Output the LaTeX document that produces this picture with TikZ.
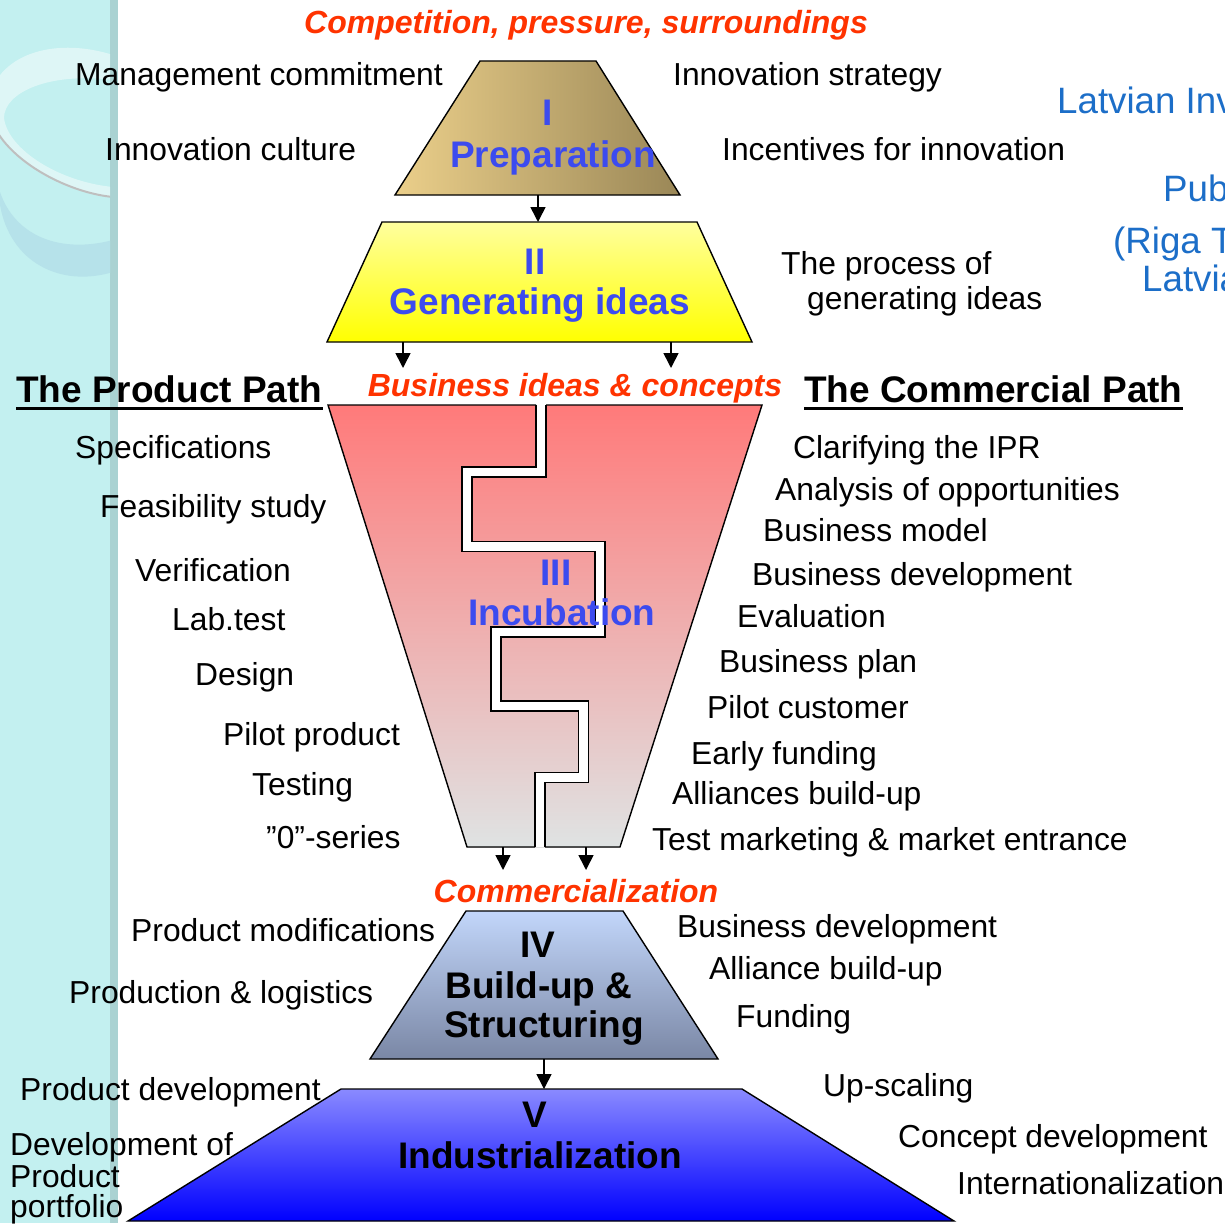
\documentclass[tikz,border=0pt]{standalone}
\usepackage{fontspec}
\setmainfont{Liberation Sans}
\usetikzlibrary{arrows.meta}
\definecolor{bgcyan}{HTML}{C3F0F0}
\definecolor{stripe}{HTML}{AAD2D2}
\definecolor{ringB}{HTML}{B6E2EA}
\definecolor{prepL}{HTML}{EBCF8A}
\definecolor{prepR}{HTML}{9A8757}
\definecolor{genT}{HTML}{FFFF9E}
\definecolor{genB}{HTML}{FFFF00}
\definecolor{incT}{HTML}{FF7A7A}
\definecolor{incB}{HTML}{DFE3E3}
\definecolor{buildT}{HTML}{C2D6FA}
\definecolor{buildB}{HTML}{7A87A5}
\definecolor{indT}{HTML}{8A8AFF}
\definecolor{indB}{HTML}{0000FF}
\definecolor{stgblue}{HTML}{3C4BEF}
\definecolor{orng}{HTML}{FF3300}
\definecolor{lvblue}{HTML}{1C6EC8}
\begin{document}
\begin{tikzpicture}[x=1pt,y=-1pt,
  lbl/.style={inner sep=0pt, anchor=west, font=\fontsize{31.8}{34}\selectfont, text height=22.8pt, text depth=0pt},
  stg/.style={inner sep=0pt, anchor=center, font=\fontsize{37}{40}\selectfont\bfseries, text height=26.5pt, text depth=0pt},
  hdr/.style={inner sep=0pt, anchor=west, font=\fontsize{37}{40}\selectfont\bfseries, text height=26.5pt, text depth=0pt},
  emph/.style={inner sep=0pt, anchor=center, font=\fontsize{32}{34}\selectfont\bfseries\itshape, text height=23pt, text depth=0pt, text=orng},
  org/.style={inner sep=0pt, anchor=west, font=\fontsize{36.7}{40}\selectfont, text height=26.3pt, text depth=0pt, text=lvblue},
  arr/.style={-{Triangle[length=15pt,width=15pt]}, line width=1.6pt},
  stagebox/.style={draw=black, line width=1.4pt, line join=miter}]

\useasboundingbox (0,0) rectangle (1225,1223);
\clip (0,0) rectangle (1225,1223);
\fill[white] (0,0) rectangle (1225,1223);

% ---------- left decorative strip ----------
\fill[bgcyan] (0,0) rectangle (110,1223);
\fill[stripe] (110,0) rectangle (118,1223);
\begin{scope}
  \clip (0,0) rectangle (110,1223);
  \fill[white, opacity=0.45] (113,55) .. controls (60,38) and (0,50) .. (-12,100)
        .. controls (-12,150) and (60,192) .. (113,197)
        -- (113,187) .. controls (60,182) and (8,150) .. (4,118)
        .. controls (4,92) and (50,72) .. (113,80) -- cycle;
  \draw[gray!50, line width=2pt] (-12,102) .. controls (-12,150) and (60,192) .. (113,197);
  \fill[ringB] (0,205) .. controls (10,262) and (60,288) .. (113,272)
        -- (113,240) .. controls (60,254) and (15,236) .. (0,192) -- cycle;
\end{scope}

% ---------- Stage I ----------
\path[stagebox, left color=prepL, right color=prepR]
  (480,61) -- (596,61) -- (680,195) -- (395,195) -- cycle;
\node[stg, text=stgblue] (s1a) at (548,112) {I};
\node[stg, text=stgblue] (s1b) at (553,154) {Preparation};
\coordinate (s1bot) at (538,195);
\coordinate (s2top) at (538,222);
\draw[arr] (s1bot) -- (s2top);

% ---------- Stage II ----------
\path[stagebox, top color=genT, bottom color=genB]
  (382,222) -- (697,222) -- (752,342) -- (327,342) -- cycle;
\node[stg, text=stgblue] (s2a) at (535,261) {II};
\node[stg, text=stgblue] (s2b) at (540,301) {Generating ideas};
\coordinate (s2botL) at (403,342);
\coordinate (s2botR) at (671,342);
\coordinate (s3topL) at (403,368);
\coordinate (s3topR) at (671,368);
\draw[arr] (s2botL) -- (s3topL);
\draw[arr] (s2botR) -- (s3topR);

% ---------- Stage III funnel ----------
\fill[top color=incT, bottom color=incB]
  (328,405) -- (762,405) -- (620,847) -- (467,847) -- cycle;
\draw[line width=1.4pt, line join=miter] (536,405) -- (328,405) -- (467,847) -- (535,847);
\draw[line width=1.4pt, line join=miter] (545,847) -- (620,847) -- (762,405) -- (546,405);
\draw[line width=1.3pt, double=white, double distance=8.5pt, line join=miter]
  (541,405) -- (541,472) -- (467,472) -- (467,546.5) -- (600,546.5) -- (600,632)
  -- (496,632) -- (496,706) -- (583.5,706) -- (583.5,777.5) -- (540,777.5) -- (540,847);
\node[stg, text=stgblue] (s3a) at (556,572) {III};
\node[stg, text=stgblue] (s3b) at (562,612) {Incubation};
\coordinate (s3botL) at (503,847);
\coordinate (s3botR) at (586,847);
\coordinate (s4topL) at (503,870);
\coordinate (s4topR) at (586,870);
\draw[arr] (s3botL) -- (s4topL);
\draw[arr] (s3botR) -- (s4topR);

% ---------- Stage IV ----------
\path[stagebox, top color=buildT, bottom color=buildB]
  (466,911) -- (623,911) -- (718,1059) -- (370,1059) -- cycle;
\node[stg] (s4a) at (538,944) {IV};
\node[stg] (s4b) at (539,985) {Build-up \&};
\node[stg] (s4c) at (544,1024) {Structuring};
\coordinate (s4bot) at (544,1059);
\coordinate (s5top) at (544,1089);
\draw[arr] (s4bot) -- (s5top);

% ---------- Stage V ----------
\path[stagebox, top color=indT, bottom color=indB]
  (341,1089) -- (742,1089) -- (954,1221) -- (128,1221) -- cycle;
\node[stg] (s5a) at (535,1114) {V};
\node[stg] (s5b) at (540,1155) {Industrialization};

% ---------- headings ----------
\node[emph] (comp) at (586,22) {Competition, pressure, surroundings};
\node[emph] (bic) at (575,385) {Business ideas \& concepts};
\node[emph] (comm) at (576,891) {Commercialization};
\node[hdr] (pp) at (16,389.5) {The Product Path};
\node[hdr] (cp) at (804,389.5) {The Commercial Path};
\draw[line width=3pt] ([yshift=-6pt]pp.south west) -- ([yshift=-6pt]pp.south east);
\draw[line width=3pt] ([yshift=-6pt]cp.south west) -- ([yshift=-6pt]cp.south east);

% ---------- top labels ----------
\node[lbl] (mc) at (75,74) {Management commitment};
\node[lbl] (ic) at (105,149) {Innovation culture};
\node[lbl] (is) at (673,74) {Innovation strategy};
\node[lbl] (ifi) at (722,149) {Incentives for innovation};
\node[lbl] (tp1) at (781,263) {The process of};
\node[lbl] (tp2) at (807,298) {generating ideas};

% ---------- organisation (cut off at right edge, as in the reference) ----------
\node[org] (lv1) at (1057,100) {Latvian Inv};
\node[org] (lv2) at (1163,188.5) {Pub};
\node[org] (lv3) at (1113,240) {(Riga T};
\node[org] (lv4) at (1142,278.5) {Latvia};

% ---------- product path ----------
\node[lbl] (p1) at (75,447.5) {Specifications};
\node[lbl] (p2) at (100,506.5) {Feasibility study};
\node[lbl] (p3) at (135,570.5) {Verification};
\node[lbl] (p4) at (172,619.5) {Lab.test};
\node[lbl] (p5) at (195,674) {Design};
\node[lbl] (p6) at (223,734) {Pilot product};
\node[lbl] (p7) at (252,784) {Testing};
\node[lbl] (p8) at (266,837.5) {”0”-series};

% ---------- commercial path ----------
\node[lbl] (c1) at (793,447) {Clarifying the IPR};
\node[lbl] (c2) at (775,489) {Analysis of opportunities};
\node[lbl] (c3) at (763,530) {Business model};
\node[lbl] (c4) at (752,574) {Business development};
\node[lbl] (c5) at (737,616) {Evaluation};
\node[lbl] (c6) at (719,661.5) {Business plan};
\node[lbl] (c7) at (707,707.5) {Pilot customer};
\node[lbl] (c8) at (691,753) {Early funding};
\node[lbl] (c9) at (672,793.5) {Alliances build-up};
\node[lbl] (c10) at (652,839) {Test marketing \& market entrance};

% ---------- stage IV labels ----------
\node[lbl] (b1) at (131,930) {Product modifications};
\node[lbl] (b2) at (69,992) {Production \& logistics};
\node[lbl] (b3) at (677,926) {Business development};
\node[lbl] (b4) at (709,968) {Alliance build-up};
\node[lbl] (b5) at (736,1016) {Funding};

% ---------- stage V labels ----------
\node[lbl] (d1) at (20,1089) {Product development};
\node[lbl] (d2) at (10,1144) {Development of};
\node[lbl] (d3) at (10,1176) {Product};
\node[lbl] (d4) at (10,1206) {portfolio};
\node[lbl] (d5) at (823,1085) {Up-scaling};
\node[lbl] (d6) at (898,1136) {Concept development};
\node[lbl] (d7) at (957,1183) {Internationalization};
\end{tikzpicture}
\end{document}
